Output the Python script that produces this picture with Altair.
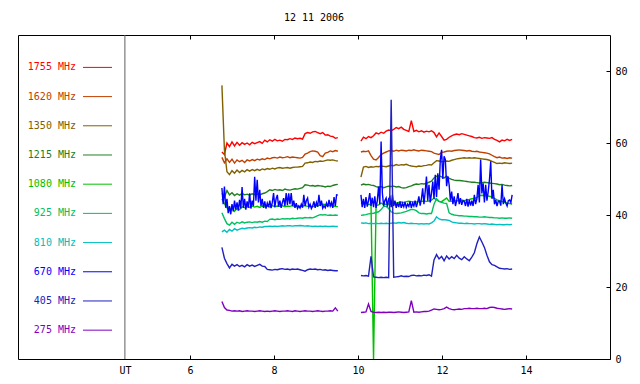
import altair as alt
import pandas as pd

TITLE = "12 11 2006"
FREQS = ["1755 MHz", "1620 MHz", "1350 MHz", "1215 MHz", "1080 MHz",
         "925 MHz", "810 MHz", "670 MHz", "405 MHz", "275 MHz"]
COLORS = ["#ff0000", "#c04000", "#806000", "#207f20", "#00c000",
          "#00c060", "#00c0c0", "#0000ff", "#2020c0", "#8000c0"]
X_TICKS = [6, 8, 10, 12, 14]
Y_TICKS = [0, 20, 40, 60, 80]
X_DOMAIN = [1.905, 16.0]
Y_DOMAIN = [0, 90]
UT_AT = 4.45
SEG_A_START, SEG_B_START = 6.76, 10.07
STEP, STEP_FINE = 0.06, 0.03

F1755_A = [57.5, 56.8, 60.0, 59.0, 60.3, 59.2, 60.2, 59.4, 60.1, 59.6, 60.0, 59.5, 60.2, 59.8, 60.1, 60.4, 59.9, 60.8, 60.3, 60.9, 60.5, 61.0, 60.6, 60.8, 60.5, 61.0, 60.9, 61.2, 61.0, 61.4, 61.2, 61.3, 61.1, 62.6, 62.9, 62.7, 63.1, 63.2, 62.9, 62.6, 62.9, 62.2, 62.3, 61.9, 61.8, 61.3, 61.5]
F1755_B = [60.5, 61.6, 61.2, 61.8, 61.5, 62.0, 62.8, 62.5, 63.0, 62.7, 63.3, 63.6, 63.4, 63.8, 64.3, 64.0, 64.4, 63.8, 63.5, 63.2, 66.2, 63.2, 63.5, 63.1, 63.4, 63.0, 63.3, 63.1, 63.4, 62.9, 61.7, 62.8, 61.8, 60.8, 61.0, 61.6, 62.0, 62.3, 62.5, 62.3, 62.6, 62.4, 62.2, 62.0, 61.8, 61.5, 61.4, 61.6, 61.3, 61.5, 61.4, 61.3, 61.5, 61.0, 60.7, 60.3, 60.8, 60.6, 61.0, 60.7, 61.0]
F1620_A = [56.0, 54.5, 55.6, 54.6, 55.5, 54.4, 55.3, 54.8, 55.2, 54.6, 55.3, 55.0, 55.4, 55.1, 55.5, 55.3, 55.6, 55.4, 55.8, 55.6, 55.9, 56.0, 55.8, 56.1, 55.9, 56.0, 56.2, 55.9, 56.1, 56.0, 55.9, 55.8, 56.0, 56.9, 57.2, 57.6, 57.8, 57.7, 57.5, 56.5, 56.2, 57.2, 57.4, 57.8, 57.6, 57.9, 57.7]
F1620_B = [57.5, 57.7, 57.6, 57.8, 56.5, 55.5, 55.3, 56.0, 56.8, 57.2, 57.5, 57.8, 57.9, 57.7, 58.0, 57.8, 58.0, 57.9, 57.8, 58.0, 57.9, 58.1, 57.9, 57.8, 58.0, 57.9, 57.8, 57.7, 57.6, 57.2, 57.0, 56.8, 57.4, 57.5, 57.7, 57.8, 57.7, 57.9, 58.0, 58.1, 58.0, 57.9, 57.8, 57.9, 57.7, 57.6, 57.7, 57.5, 57.4, 57.3, 57.2, 57.0, 56.6, 56.2, 55.9, 56.1, 55.8, 55.9, 55.7, 55.9, 55.8]
F1350_A = [76.0, 58.0, 52.0, 51.2, 52.3, 51.6, 52.5, 51.8, 52.4, 52.0, 52.6, 52.2, 52.6, 52.3, 52.7, 52.4, 52.8, 52.6, 52.9, 52.7, 53.0, 52.8, 53.1, 53.2, 53.0, 53.1, 53.2, 53.0, 53.2, 53.3, 53.3, 53.4, 53.5, 54.4, 54.5, 54.7, 54.6, 54.9, 54.8, 55.0, 54.9, 55.1, 55.3, 55.2, 55.3, 55.1, 55.0]
F1350_B = [50.5, 53.3, 53.5, 53.2, 53.4, 53.3, 53.5, 53.4, 53.6, 53.5, 53.4, 53.6, 53.8, 53.7, 54.0, 53.8, 54.0, 53.9, 54.1, 53.8, 53.6, 53.5, 53.4, 53.6, 53.5, 53.7, 53.8, 54.0, 53.9, 54.5, 55.1, 55.0, 54.8, 54.9, 55.0, 54.9, 55.2, 55.4, 55.6, 55.7, 55.8, 55.9, 55.8, 55.9, 55.8, 55.9, 55.8, 55.7, 55.6, 55.5, 55.4, 55.2, 54.9, 54.6, 54.3, 54.4, 54.3, 54.5, 54.4, 54.3, 54.4]
F1215_A = [46.0, 45.0, 46.8, 45.6, 46.2, 45.4, 45.9, 45.5, 46.0, 45.6, 45.8, 45.5, 45.9, 45.7, 45.8, 45.6, 45.9, 46.1, 46.5, 47.0, 46.8, 47.1, 46.9, 47.0, 46.8, 47.2, 47.0, 46.9, 47.1, 47.3, 47.2, 47.4, 47.6, 48.4, 48.3, 48.1, 48.2, 48.0, 48.2, 48.1, 48.0, 47.8, 48.0, 47.9, 48.2, 48.4, 48.5]
F1215_B = [48.3, 48.6, 48.4, 48.5, 48.3, 48.2, 47.9, 47.7, 47.9, 47.6, 47.8, 48.0, 47.9, 48.0, 47.8, 47.9, 47.6, 47.5, 47.6, 47.9, 48.1, 48.4, 48.6, 48.5, 48.7, 48.6, 48.8, 49.1, 49.4, 50.3, 50.8, 50.9, 50.6, 50.3, 50.8, 50.2, 49.9, 49.7, 49.6, 49.6, 49.5, 49.4, 49.3, 49.2, 49.1, 49.1, 49.0, 48.9, 49.0, 49.1, 49.0, 48.9, 48.8, 48.7, 48.6, 48.4, 48.5, 48.3, 48.2, 48.1, 48.2]
F1080_A = [44.5, 43.2, 42.0, 41.3, 42.2, 41.0, 41.8, 41.5, 42.3, 42.0, 42.4, 42.1, 42.5, 42.2, 42.4, 42.1, 42.5, 42.3, 42.5, 42.2, 42.6, 42.3, 42.5, 42.4, 42.6, 42.3, 42.5, 42.4, 42.6, 42.3, 42.5, 42.4, 42.5, 42.6, 42.4, 42.5, 42.3, 42.6, 42.5, 42.8, 43.0, 42.9, 42.7, 42.6, 42.5, 42.4, 42.3]
F1080_B = [43.3, 43.1, 43.2, 42.9, 43.0, 0.0, 42.6, 42.8, 43.3, 42.9, 43.0, 43.1, 43.0, 43.2, 43.3, 43.5, 43.6, 43.5, 43.7, 43.8, 43.7, 43.6, 43.6, 43.7, 43.8, 43.9, 43.8, 43.9, 44.1, 44.7, 44.2, 43.8, 43.7, 44.2, 44.7, 43.8, 43.8, 43.9, 44.0, 43.9, 44.1, 44.0, 44.2, 44.3, 44.5, 44.6, 44.8, 45.4, 45.5, 45.4, 45.3, 45.2, 45.0, 44.6, 44.2, 44.0, 43.7, 43.5, 43.3, 43.2, 43.0]
F925_A = [40.6, 39.0, 37.6, 37.2, 38.0, 37.4, 38.0, 37.7, 38.1, 37.8, 38.0, 38.1, 37.9, 38.1, 38.0, 38.2, 38.0, 38.3, 38.2, 38.8, 38.9, 38.7, 38.9, 38.8, 39.0, 38.9, 39.0, 38.9, 39.1, 39.0, 39.1, 39.2, 39.1, 39.3, 39.2, 39.3, 39.2, 39.5, 39.8, 40.1, 40.0, 40.1, 39.9, 40.0, 39.9, 40.0, 39.9]
F925_B = [39.9, 40.0, 40.1, 40.3, 40.4, 40.5, 40.7, 40.9, 41.5, 42.4, 42.4, 41.8, 40.9, 40.5, 40.4, 40.5, 40.6, 40.8, 41.0, 41.3, 41.6, 41.5, 41.2, 40.6, 40.4, 40.4, 40.3, 40.4, 40.4, 43.0, 44.5, 43.8, 43.5, 43.3, 43.2, 40.6, 40.2, 40.0, 39.9, 39.8, 39.8, 39.7, 39.7, 39.6, 39.6, 39.5, 39.5, 39.4, 39.4, 39.5, 39.4, 39.3, 39.3, 39.2, 39.2, 39.1, 39.2, 39.1, 39.1, 39.2, 39.1]
F810_A = [35.3, 35.8, 35.2, 36.0, 35.5, 36.2, 35.8, 36.1, 36.3, 36.2, 36.4, 36.5, 36.4, 36.6, 36.5, 36.7, 36.6, 36.8, 36.8, 36.9, 36.8, 36.9, 36.8, 36.9, 37.0, 36.9, 37.0, 37.0, 36.9, 37.0, 37.0, 37.1, 37.0, 36.9, 37.0, 36.9, 36.8, 36.9, 36.8, 36.9, 36.8, 36.9, 36.8, 36.8, 36.9, 36.8, 36.8]
F810_B = [37.8, 37.7, 37.8, 37.6, 37.7, 37.6, 37.7, 37.6, 37.7, 37.6, 37.7, 37.6, 37.7, 37.8, 37.7, 37.9, 37.8, 37.9, 37.7, 37.6, 37.7, 37.6, 37.6, 37.5, 37.6, 37.5, 37.6, 37.5, 37.8, 38.3, 39.5, 38.9, 38.7, 38.7, 38.6, 38.5, 38.1, 37.9, 37.8, 37.7, 37.7, 37.6, 37.7, 37.6, 37.6, 37.5, 37.6, 37.6, 37.5, 37.6, 37.5, 37.4, 37.5, 37.4, 37.3, 37.4, 37.3, 37.3, 37.4, 37.3, 37.4]
# 670 MHz is read at the finer step (very spiky trace)
F670_A = [47.5, 43.0, 47.9, 42.0, 44.5, 40.5, 42.5, 40.2, 43.0, 41.0,
          44.0, 41.5, 43.5, 41.2, 44.2, 41.8, 47.8, 42.0, 44.5, 41.5,
          43.8, 42.0, 46.0, 41.8, 44.0, 42.5, 50.6, 44.0, 49.8, 43.5,
          47.0, 42.5, 44.5, 42.0, 43.8, 41.8, 43.3, 42.2, 44.0, 41.9,
          43.5, 46.1, 42.2, 44.5, 45.6, 42.3, 44.0, 42.0, 43.5, 44.7,
          42.5, 46.1, 42.8, 46.0, 43.0, 46.1, 42.5, 44.0, 42.0, 43.3,
          41.8, 42.5, 41.9, 43.0, 42.0, 45.6, 42.5, 44.0, 44.7, 42.2,
          43.0, 41.8, 42.5, 43.8, 42.0, 43.5, 42.3, 45.6, 42.5, 44.0,
          41.9, 42.6, 42.0, 43.3, 42.2, 44.2, 42.5, 43.5, 42.0, 45.0,
          42.5, 45.6, 45.5]
F670_B = [45.6, 42.2, 44.5, 42.0, 45.0, 42.3, 44.0, 46.1, 42.5, 44.8,
          42.2, 45.2, 42.0, 44.0, 47.9, 43.0, 60.4, 46.1, 42.5, 44.0,
          44.7, 42.3, 44.5, 45.0, 42.2, 45.6, 42.5, 44.0, 42.0, 43.5,
          42.2, 43.8, 42.0, 43.2, 42.3, 43.6, 42.1, 43.0, 42.4, 43.8,
          42.0, 43.3, 42.5, 44.0, 42.2, 43.5, 45.2, 42.6, 44.5, 47.4,
          43.0, 46.5, 50.7, 44.0, 48.4, 43.5, 46.0, 49.3, 44.5, 51.2,
          45.0, 51.6, 47.0, 55.4, 58.1, 50.0, 56.3, 55.4, 48.0, 50.7,
          48.4, 44.0, 46.5, 43.0, 45.2, 42.5, 44.0, 46.1, 43.0, 44.7,
          42.8, 44.0, 43.8, 42.5, 44.5, 42.3, 44.2, 42.6, 44.0, 42.5,
          45.6, 43.0, 44.5, 48.4, 43.5, 55.4, 46.0, 48.8, 43.5, 48.4,
          44.0, 46.5, 49.8, 54.9, 44.5, 47.0, 43.0, 44.2, 42.5, 43.8,
          43.8, 42.6, 48.4, 43.0, 44.5, 43.3, 42.5, 44.0, 44.2, 43.5,
          45.6]
F405_A = [31.0, 28.0, 26.5, 25.3, 26.3, 25.8, 26.2, 25.7, 26.0, 25.6, 26.2, 25.8, 26.1, 25.7, 26.0, 26.3, 25.8, 25.7, 24.9, 24.8, 24.7, 24.9, 24.8, 25.0, 25.1, 24.9, 25.0, 24.8, 25.0, 24.9, 25.0, 24.8, 24.6, 24.4, 24.8, 25.0, 24.9, 25.0, 24.8, 24.9, 24.7, 24.8, 24.6, 24.7, 24.6, 24.5, 24.5]
F405_B = [23.2, 23.1, 23.2, 23.0, 28.5, 22.8, 22.7, 22.6, 22.7, 22.6, 22.7, 22.6, 72.0, 22.7, 22.8, 22.9, 23.1, 22.9, 23.0, 22.9, 23.2, 23.3, 23.1, 23.2, 23.1, 23.3, 23.2, 23.4, 23.0, 27.5, 29.0, 27.8, 28.5, 27.3, 28.6, 27.8, 28.4, 27.9, 28.8, 28.0, 27.6, 28.4, 27.8, 27.3, 28.3, 29.5, 32.0, 33.9, 32.5, 31.0, 28.8, 27.0, 26.2, 26.0, 25.6, 25.2, 25.1, 25.0, 25.1, 24.9, 25.0]
F275_A = [16.0, 14.3, 13.6, 13.5, 13.3, 13.4, 13.3, 13.4, 13.2, 13.3, 13.4, 13.3, 13.3, 13.2, 13.3, 13.4, 13.3, 13.2, 13.3, 13.2, 13.3, 13.4, 13.3, 13.2, 13.3, 13.3, 13.4, 13.3, 13.2, 13.4, 13.3, 13.2, 13.3, 13.4, 13.3, 13.3, 13.2, 13.3, 13.4, 13.3, 13.2, 13.3, 13.3, 13.4, 13.3, 14.2, 13.3]
F275_B = [12.9, 13.0, 13.1, 15.3, 13.2, 13.0, 12.9, 13.0, 12.9, 13.0, 12.9, 13.0, 13.0, 12.9, 13.0, 13.1, 13.0, 12.9, 13.0, 13.1, 16.2, 13.0, 13.1, 13.0, 13.1, 13.2, 13.2, 13.3, 13.6, 13.9, 13.8, 13.7, 13.8, 14.0, 14.4, 14.0, 13.8, 13.7, 13.8, 13.9, 13.8, 14.0, 14.0, 14.1, 14.0, 14.0, 14.1, 14.0, 14.0, 14.1, 14.0, 14.3, 14.4, 14.3, 14.1, 14.0, 13.9, 13.8, 13.9, 14.0, 13.9]

SERIES = {
    "1755 MHz": (F1755_A, F1755_B, STEP), "1620 MHz": (F1620_A, F1620_B, STEP),
    "1350 MHz": (F1350_A, F1350_B, STEP), "1215 MHz": (F1215_A, F1215_B, STEP),
    "1080 MHz": (F1080_A, F1080_B, STEP), "925 MHz": (F925_A, F925_B, STEP),
    "810 MHz": (F810_A, F810_B, STEP), "670 MHz": (F670_A, F670_B, STEP_FINE),
    "405 MHz": (F405_A, F405_B, STEP), "275 MHz": (F275_A, F275_B, STEP),
}

rows = []
for name, (seg_a, seg_b, step) in SERIES.items():
    for seg_id, start, vals in (("a", SEG_A_START, seg_a), ("b", SEG_B_START, seg_b)):
        for k, v in enumerate(vals):
            rows.append({"f": name, "seg": seg_id, "t": round(start + step * k, 4), "v": v})
df = pd.DataFrame(rows)

# legend rows, stacked in data units from the top of the panel
legend_df = pd.DataFrame({"f": FREQS, "ly": [81.0 - 8.11 * i for i in range(len(FREQS))]})

FONT = "DejaVu Sans Mono"
x_scale = alt.Scale(domain=X_DOMAIN, nice=False, zero=False)
y_scale = alt.Scale(domain=Y_DOMAIN, nice=False, zero=False)
color_scale = alt.Scale(domain=FREQS, range=COLORS)

bottom_axis = alt.Axis(orient="bottom", values=[UT_AT] + X_TICKS,
                       labelExpr="datum.value < 5 ? 'UT' : datum.label",
                       tickOpacity={"condition": {"test": "datum.value < 5", "value": 0}, "value": 1},
                       offset=-4, tickSize=4, domain=False, grid=False,
                       labelPadding=6, title=None, labelFlush=False, labelOverlap=False)
top_axis = alt.Axis(orient="top", values=X_TICKS, labels=False, offset=-4, tickSize=4,
                    domain=False, grid=False, title=None)
right_axis = alt.Axis(orient="right", values=Y_TICKS, offset=-4, tickSize=4, domain=False,
                      grid=False, title=None, labelPadding=5, labelFlush=False)

lines = alt.Chart(df).mark_line(strokeWidth=1.4, clip=True).encode(
    x=alt.X("t:Q", scale=x_scale, axis=bottom_axis),
    y=alt.Y("v:Q", scale=y_scale, axis=right_axis),
    color=alt.Color("f:N", scale=color_scale, legend=None),
    detail="seg:N",
)

divider = alt.Chart(pd.DataFrame({"t": [UT_AT]})).mark_rule(color="#606060", strokeWidth=1).encode(
    x=alt.X("t:Q", scale=x_scale, axis=top_axis),
)

legend_rules = alt.Chart(legend_df).mark_rule(strokeWidth=1).encode(
    x=alt.value(65), x2=alt.value(94),
    y=alt.Y("ly:Q", scale=y_scale, axis=right_axis),
    color=alt.Color("f:N", scale=color_scale, legend=None),
)

legend_text = alt.Chart(legend_df).mark_text(align="right", baseline="middle", font=FONT, fontSize=10).encode(
    x=alt.value(58),
    y=alt.Y("ly:Q", scale=y_scale, axis=right_axis),
    text="f:N",
    color=alt.Color("f:N", scale=color_scale, legend=None),
)

chart = alt.layer(divider, lines, legend_rules, legend_text).resolve_axis(x="independent").properties(
    width=592, height=324,
    autosize="none",
    padding={"left": 10, "top": 27, "right": 22, "bottom": 17},
    title=alt.Title(TITLE),
).configure_axis(
    labelFont=FONT, labelFontSize=10, labelColor="black", tickColor="black", tickWidth=1,
).configure_view(
    stroke="black", strokeWidth=1,
).configure_title(
    font=FONT, fontSize=10, fontWeight="normal", color="black", anchor="middle",
    offset=12, baseline="alphabetic",
)

chart.save("out.html", embed_options={"renderer": "svg", "actions": False})
